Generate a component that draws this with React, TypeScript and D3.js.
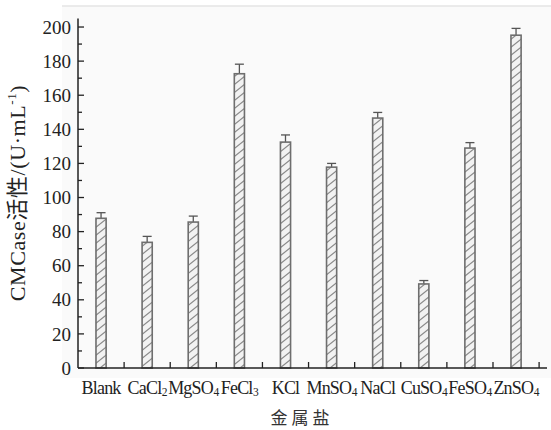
import React from "react";
import * as d3 from "d3";

// metal salts on the x axis
const categories = ["Blank", "CaCl2", "MgSO4", "FeCl3", "KCl", "MnSO4", "NaCl", "CuSO4", "FeSO4", "ZnSO4"];
// CMCase activity (U/mL) and its error
const activity = [87.8, 73.7, 85.6, 172.6, 132.5, 117.8, 146.6, 49.3, 129.0, 195.2];
const errors = [3.3, 3.5, 3.5, 5.6, 4.2, 2.2, 3.3, 2.0, 3.2, 4.0];
const yTicks = [0, 20, 40, 60, 80, 100, 120, 140, 160, 180, 200];

const width = 551;
const height = 430;
const margin = { top: 18.5, right: 12, bottom: 62, left: 78 };

const serif = "'Liberation Serif', 'Times New Roman', 'Noto Sans CJK SC', serif";

// split "MgSO4" -> ["MgSO", "4"]
function splitSub(name: string) {
  const m = name.match(/^(.*?)(\d)$/);
  return m ? [m[1], m[2]] : [name, ""];
}

export default function App() {
  const x = d3
    .scaleBand()
    .domain(categories)
    .range([margin.left, 539.1])
    .padding(0);

  const y = d3
    .scaleLinear()
    .domain([0, 205])
    .range([height - margin.bottom, margin.top]);

  const barW = x.bandwidth() * 0.22;
  const y0 = y(0);
  const minor = d3.range(10, 205, 20);

  return (
    <svg
      width={width}
      height={height}
      style={{ position: "absolute", left: 0, top: 0, background: "#fff" }}
    >
      <defs>
        <pattern id="hatch" patternUnits="userSpaceOnUse" width="10" height="8">
          <rect width="10" height="8" fill="#f2f2f2" />
          <path d="M0,8 L10,0 M-1,1 L1,-1 M9,9 L11,7" stroke="#8a8a8a" strokeWidth="1.2" />
        </pattern>
      </defs>

      {/* faint panel behind the plot */}
      <rect x={62} y={6} width={489} height={372} fill="#fafafa" />
      <line x1={62} x2={551} y1={6} y2={6} stroke="#e4e4e4" strokeWidth={1.5} />

      {/* bars */}
      {categories.map((c, i) => {
        const cx = (x(c) as number) + x.bandwidth() / 2;
        const top = y(activity[i]);
        const errTop = y(activity[i] + errors[i]);
        return (
          <g key={c}>
            <line x1={cx} x2={cx} y1={top} y2={errTop} stroke="#555" strokeWidth={1.3} />
            <line x1={cx - 4.5} x2={cx + 4.5} y1={errTop} y2={errTop} stroke="#555" strokeWidth={1.3} />
            <rect
              x={cx - barW / 2}
              y={top}
              width={barW}
              height={y0 - top}
              fill="url(#hatch)"
              stroke="#6e6e6e"
              strokeWidth={1.6}
            />
          </g>
        );
      })}

      {/* y axis */}
      <line x1={margin.left} x2={margin.left} y1={margin.top} y2={y0} stroke="#222" strokeWidth={1.5} />
      {yTicks.map(t => (
        <g key={t}>
          <line x1={margin.left} x2={margin.left + 6} y1={y(t)} y2={y(t)} stroke="#222" strokeWidth={1.3} />
          <text
            x={71}
            y={y(t)}
            dy="0.35em"
            textAnchor="end"
            fontFamily={serif}
            fontSize={19}
            fill="#222"
          >
            {t}
          </text>
        </g>
      ))}
      {minor.map(t => (
        <line key={t} x1={margin.left} x2={margin.left + 4} y1={y(t)} y2={y(t)} stroke="#222" strokeWidth={1.3} />
      ))}

      {/* x axis */}
      <line x1={margin.left} x2={547} y1={y0} y2={y0} stroke="#222" strokeWidth={1.5} />
      {categories.slice(1).concat(["end"]).map((c, i) => {
        const bx = margin.left + x.step() * (i + 1);
        return <line key={c} x1={bx} x2={bx} y1={y0} y2={y0 - 6} stroke="#222" strokeWidth={1.3} />;
      })}
      {categories.map(c => {
        const [base, sub] = splitSub(c);
        const cx = (x(c) as number) + x.bandwidth() / 2;
        return (
          <text
            key={c}
            x={cx}
            y={394}
            textAnchor="middle"
            fontFamily={serif}
            fontSize={18}
            letterSpacing={-0.8}
            fill="#222"
          >
            {base}
            {sub && (
              <tspan fontSize={11.5} dy={2} dx={0.5}>
                {sub}
              </tspan>
            )}
          </text>
        );
      })}

      {/* axis titles */}
      <text
        x={302}
        y={418}
        dy="0.35em"
        textAnchor="middle"
        fontFamily={serif}
        fontSize={17}
        letterSpacing={4}
        fill="#333"
      >
        金属盐
      </text>
      <text
        transform="translate(25,193) rotate(-90)"
        textAnchor="middle"
        fontFamily={serif}
        fontSize={22}
        letterSpacing={0.6}
        fill="#222"
      >
        CMCase活性/(U·mL
        <tspan fontSize={13} dy={-9}>
          -1
        </tspan>
        <tspan dy={9}>)</tspan>
      </text>
    </svg>
  );
}
